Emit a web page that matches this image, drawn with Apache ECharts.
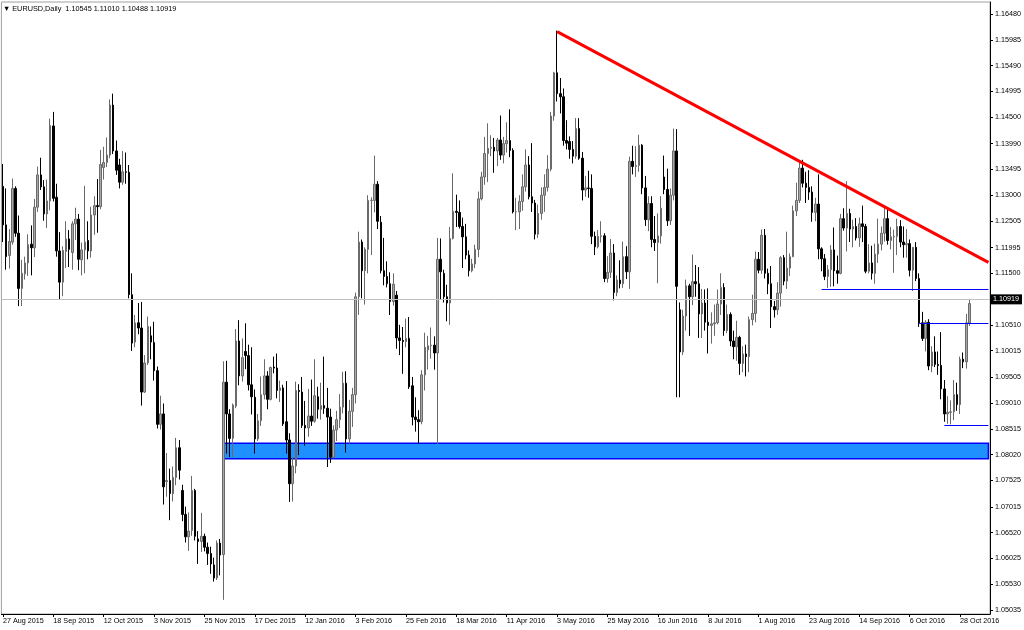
<!DOCTYPE html>
<html><head><meta charset="utf-8">
<script src="https://cdn.jsdelivr.net/npm/echarts@6.0.0/dist/echarts.min.js"></script>
<style>html,body{margin:0;padding:0;background:#fff}#c{width:1024px;height:630px}</style>
</head><body><div id="c"></div>
<script>
// ---- data (prices x 10000) ----
const symbolName = 'EURUSD';
const timeframe = 'Daily';
const firstDate = '2015-08-27';
const holidays = ['2015-12-25', '2016-01-01'];
const futureBars = 6;

const opens = [
11317,11243,11184,11210,11313,11227,11121,11149,11170,11206,11199,11277,11339,11316,11264,11289,
11433,11296,11193,11133,11192,11216,11190,11245,11254,11176,11195,11213,11193,11262,11280,11278,
11353,11363,11377,11473,11385,11358,11325,11345,11344,11109,11018,11055,11045,10922,10978,11030,
11017,10963,10860,10880,10750,10752,10727,10758,10815,10733,10687,10644,10656,10733,10640,10635,
10645,10624,10612,10590,10565,10632,10610,10941,10880,10833,10895,11020,10953,11000,10992,10936,
10912,10832,10867,10917,10953,10908,10970,10968,10925,10930,10865,10830,10746,10780,10925,10922,
10858,10853,10876,10866,10913,10889,10896,10891,10874,10797,10849,10869,10893,10939,10832,10885,
10917,11105,11210,11155,11196,11290,11290,11321,11248,11155,11144,11130,11096,11108,11026,11021,
11019,11025,10934,10874,10869,10865,10955,11003,11011,11012,10997,11177,11150,11105,11093,11217,
11269,11267,11240,11220,11185,11155,11168,11196,11293,11335,11380,11390,11392,11385,11406,11377,
11399,11405,11386,11268,11268,11288,11316,11358,11297,11285,11225,11265,11300,11315,11350,11452,
11535,11495,11489,11405,11403,11388,11375,11428,11371,11310,11314,11313,11221,11201,11221,11222,
11140,11152,11189,11113,11137,11130,11182,11153,11365,11355,11357,11396,11314,11253,11284,11215,
11209,11222,11335,11311,11251,11300,11385,11080,10999,11068,11126,11105,11134,11130,11072,11093,
11056,11050,11053,11055,11091,11123,11040,11071,11020,11009,11027,10977,10995,10990,11061,11073,
11177,11156,11223,11150,11130,11086,11080,11112,11180,11135,11160,11182,11270,11290,11352,11323,
11315,11306,11267,11283,11197,11178,11144,11157,11195,11155,11150,11255,11237,11265,11235,11240,
11218,11245,11240,11154,11170,11150,11187,11206,11227,11255,11213,11220,11221,11240,11210,11205,
11207,11156,11200,11140,11055,11025,11056,10972,10999,10975,10973,10928,10880,10883,10884,10917,
10898,10985,10980,11054.5];

const highs = [
11360,11313,11235,11332,11317,11261,11176,11182,11225,11242,11293,11355,11372,11329,11330,11447,
11460,11322,11229,11202,11250,11233,11250,11276,11264,11209,11318,11250,11278,11298,11331,11387,
11393,11411,11484,11495,11405,11370,11385,11382,11358,11150,11070,11093,11095,10993,11067,11048,
11057,10971,10915,10900,10805,10775,10779,10834,10830,10744,10702,10691,10761,10736,10655,10690,
10650,10633,10625,10604,10637,10640,10981,10982,10889,10900,11043,11060,11025,11054,11013,11008,
10927,10880,10952,10985,10962,10971,10990,10996,10944,10936,10943,10843,10797,10942,10937,10951,
10905,10928,10946,10985,10932,10940,10990,10930,10890,10858,10886,10918,10961,10962,10907,10930,
11113,11230,11215,11200,11300,11296,11376,11327,11260,11218,11173,11152,11150,11116,11051,11047,
11063,11066,10951,10912,10887,10964,11036,11030,11046,11029,11218,11217,11157,11128,11239,11342,
11301,11290,11257,11245,11194,11178,11205,11307,11345,11412,11438,11415,11410,11410,11453,11412,
11440,11465,11390,11295,11300,11340,11388,11375,11400,11291,11282,11315,11340,11377,11460,11537,
11616,11525,11505,11444,11413,11404,11448,11448,11383,11337,11347,11340,11230,11233,11250,11227,
11183,11216,11206,11146,11175,11211,11202,11374,11395,11394,11416,11398,11337,11298,11298,11260,
11265,11298,11376,11351,11313,11428,11427,11094,11080,11138,11130,11186,11166,11162,11120,11119,
11121,11075,11090,11119,11150,11131,11090,11075,11040,11059,11030,11010,11013,11067,11109,11192,
11191,11234,11235,11159,11164,11097,11133,11183,11185,11230,11188,11280,11324,11366,11368,11345,
11348,11317,11295,11340,11200,11187,11166,11204,11238,11184,11264,11275,11327,11274,11253,11256,
11257,11280,11245,11206,11203,11207,11255,11240,11277,11273,11239,11234,11255,11252,11240,11235,
11215,11200,11210,11150,11076,11060,11062,11010,11029,11000,11037,10945,10914,10906,10945,10940,
10990,10998,11072,11101];

const lows = [
11210,11157,11159,11205,11220,11087,11087,11138,11145,11146,11181,11268,11310,11251,11237,11271,
11288,11182,11100,11106,11160,11162,11157,11214,11156,11146,11150,11177,11180,11224,11228,11273,
11330,11354,11371,11379,11339,11313,11320,11322,11102,11001,11008,11033,10896,10920,10974,10985,
10944,10852,10850,10706,10721,10676,10712,10743,10754,10674,10633,10617,10646,10637,10592,10615,
10616,10590,10573,10558,10561,10570,10523,10804,10797,10797,10891,10935,10942,10966,10925,10879,
10804,10828,10857,10908,10889,10906,10958,10910,10903,10857,10804,10711,10712,10766,10801,10853,
10819,10836,10857,10863,10871,10869,10880,10778,10786,10795,10828,10853,10881,10806,10823,10855,
10900,11070,11102,11090,11150,11185,11267,11235,11150,11127,11123,11070,11088,11005,10993,10957,
11008,10928,10858,10846,10822,10860,10925,10965,10986,10965,10822,11099,11094,11058,11051,11215,
11239,11236,11160,11177,11144,11152,11160,11181,11290,11320,11325,11375,11343,11356,11368,11361,
11382,11373,11265,11233,11235,11270,11307,11292,11268,11215,11218,11253,11268,11307,11346,11443,
11480,11457,11395,11388,11370,11361,11370,11368,11290,11297,11295,11206,11185,11198,11209,11133,
11132,11141,11098,11106,11121,11122,11139,11120,11340,11335,11345,11302,11241,11231,11200,11193,
11131,11207,11302,11241,11243,11290,10912,10912,10993,11040,11030,11089,11105,11026,11026,11040,
10996,11015,11030,11052,11070,11030,11035,11010,10985,10982,10955,10960,10952,10960,11050,11056,
11150,11149,11140,11110,11045,11065,11070,11086,11127,11120,11145,11181,11260,11285,11315,11285,
11291,11249,11250,11177,11154,11137,11122,11124,11125,11130,11148,11232,11192,11210,11200,11213,
11201,11210,11150,11150,11138,11130,11170,11194,11211,11205,11196,11151,11185,11200,11180,11180,
11144,11116,11135,11047,11020,11000,10964,10960,10970,10955,10908,10865,10861,10860,10868,10886,
10880,10968,10967,11048.8];

const closes = [
11243,11182,11211,11313,11227,11121,11150,11170,11205,11199,11277,11339,11316,11264,11289,11434,
11294,11193,11133,11194,11216,11196,11245,11254,11177,11195,11210,11193,11262,11280,11278,11359,
11363,11377,11473,11385,11348,11325,11345,11344,11109,11016,11055,11045,10922,10978,11048,11018,
10963,10860,10880,10740,10752,10727,10758,10815,10772,10687,10644,10655,10733,10645,10635,10645,
10624,10612,10592,10565,10632,10609,10941,10880,10833,10897,11020,10953,10988,10992,10936,10913,
10832,10867,10917,10953,10908,10969,10968,10925,10930,10861,10830,10746,10780,10925,10923,10858,
10853,10876,10866,10915,10889,10896,10891,10874,10797,10849,10869,10893,10939,10832,10885,10917,
11105,11210,11155,11196,11290,11290,11321,11250,11155,11144,11130,11096,11129,11026,11021,11019,
11025,10932,10874,10869,10865,10955,11008,11011,11012,10997,11177,11153,11105,11093,11217,11269,
11267,11240,11220,11185,11155,11168,11196,11293,11335,11380,11390,11392,11385,11406,11377,11399,
11405,11386,11268,11268,11288,11316,11358,11297,11285,11225,11265,11300,11315,11350,11452,11535,
11495,11489,11405,11400,11388,11375,11428,11371,11310,11314,11313,11221,11201,11221,11222,11140,
11152,11189,11113,11137,11130,11182,11153,11365,11355,11357,11396,11314,11253,11284,11215,11209,
11222,11275,11311,11251,11300,11385,11125,10999,11068,11126,11105,11134,11130,11072,11093,11056,
11050,11053,11055,11091,11123,11040,11071,11020,11009,11027,10977,10995,10990,11061,11073,11177,
11156,11223,11150,11130,11086,11080,11112,11180,11135,11160,11182,11270,11290,11352,11323,11315,
11306,11267,11283,11197,11178,11144,11157,11195,11155,11150,11255,11237,11265,11235,11240,11218,
11245,11240,11154,11170,11150,11187,11206,11227,11255,11213,11220,11221,11240,11210,11205,11207,
11156,11200,11140,11055,11025,11056,10972,10999,10975,10973,10928,10880,10883,10884,10917,10898,
10985,10980,11055,11091.9];

// price-axis tick labels (right scale)
const yTickLabels = ['1.05035','1.05530','1.06025','1.06520','1.07015','1.07525','1.08020','1.08515',
  '1.09010','1.09505','1.10015','1.10510','1.11005','1.11500','1.11995','1.12505','1.13000','1.13495',
  '1.13990','1.14500','1.14995','1.15490','1.15985','1.16480'];
const yMin = 1.04958, yMax = 1.16710;

// drawn objects
const bidPrice = 1.10919;
const trendStartDate = '3 May 2016', trendStartPrice = 1.1614, trendEndPrice = 1.1171;
const levelStartDates = ['29 Aug 2016', '11 Oct 2016', '21 Oct 2016'];
const levelPrices = [1.11193, 1.10545, 1.08574];
const zoneStartDate = '3 Dec 2015', zoneTop = 1.08236, zoneBottom = 1.07940;

// ---- build ----
const monthNames = ['Jan','Feb','Mar','Apr','May','Jun','Jul','Aug','Sep','Oct','Nov','Dec'];
function buildDates(start, count, skip) {
  const out = []; const d = new Date(start + 'T00:00:00Z');
  while (out.length < count) {
    const wd = d.getUTCDay(); const iso = d.toISOString().slice(0, 10);
    if (wd !== 0 && wd !== 6 && skip.indexOf(iso) < 0)
      out.push(d.getUTCDate() + ' ' + monthNames[d.getUTCMonth()] + ' ' + d.getUTCFullYear());
    d.setUTCDate(d.getUTCDate() + 1);
  }
  return out;
}
const dates = buildDates(firstDate, opens.length + futureBars, holidays);
const lastCat = dates[dates.length - 1];
const P = v => v / 10000;
const candleData = opens.map((o, i) => [P(o), P(closes[i]), P(lows[i]), P(highs[i])]);
const last = candleData.length - 1;
const titleText = '\u25BC ' + symbolName + ',' + timeframe + '  ' +
  [opens[last], highs[last], lows[last], closes[last]].map(v => P(v).toFixed(5)).join(' ');
const yTickValues = yTickLabels.map(Number);
const FONT = '"Liberation Sans", "DejaVu Sans", sans-serif';

const markLines = [];
markLines.push([{ coord: [trendStartDate, trendStartPrice] }, { coord: [lastCat, trendEndPrice],
  lineStyle: { color: '#ff0000', width: 3, type: 'solid' } }]);
levelPrices.forEach((p, i) => {
  markLines.push([{ coord: [levelStartDates[i], p] }, { coord: [lastCat, p],
    lineStyle: { color: '#0000ff', width: 1, type: 'solid' } }]);
});
markLines.push({ yAxis: bidPrice, lineStyle: { color: '#c0c0c0', width: 1, type: 'solid' },
  label: { show: true, position: 'end', distance: 1, formatter: bidPrice.toFixed(5), color: '#ffffff',
    backgroundColor: '#000000', padding: [2, 3, 1, 2], fontFamily: FONT, fontSize: 7.2 } });

const chart = echarts.init(document.getElementById('c'), null, { renderer: 'canvas' });
chart.setOption({
  animation: false,
  backgroundColor: '#ffffff',
  title: { text: titleText, left: 3, top: 5, padding: 0,
    textStyle: { fontFamily: FONT, fontSize: 7.3, fontWeight: 'normal', color: '#000' } },
  grid: { left: 0.4, right: 34, top: 2, bottom: 16, show: true, borderColor: '#a0a0a0', borderWidth: 1 },
  xAxis: {
    type: 'category', data: dates, boundaryGap: true,
    axisLine: { lineStyle: { color: '#000', width: 1 } },
    axisTick: { show: true, alignWithLabel: true, interval: 15, length: 3, lineStyle: { color: '#000' } },
    axisLabel: { interval: 15, align: 'left', margin: 4, fontFamily: FONT, fontSize: 7.2, color: '#000' },
    splitLine: { show: false }
  },
  yAxis: {
    type: 'value', position: 'right', min: yMin, max: yMax,
    axisLine: { show: true, lineStyle: { color: '#000' } },
    axisTick: { show: true, length: 3, customValues: yTickValues, lineStyle: { color: '#000' } },
    axisLabel: { customValues: yTickValues, formatter: v => v.toFixed(5), margin: 5,
      fontFamily: FONT, fontSize: 7.2, color: '#000' },
    splitLine: { show: false }
  },
  series: [
    { type: 'line', data: [], z: 1, silent: true,
      markArea: { silent: true, itemStyle: { color: '#1e90ff', borderColor: '#0000ff', borderWidth: 1.5 },
        data: [[{ coord: [zoneStartDate, zoneTop] }, { coord: [lastCat, zoneBottom] }]] } },
    { type: 'candlestick', data: candleData, z: 2, barWidth: 2, silent: true,
      itemStyle: { color: '#a8a8a8', color0: '#000000', borderColor: '#6a6a6a', borderColor0: '#000000', borderWidth: 1 } },
    { type: 'line', data: [], z: 3, silent: true,
      markLine: { silent: true, symbol: ['none', 'none'], label: { show: false },
        lineStyle: { type: 'solid' }, data: markLines } }
  ]
});
</script></body></html>
